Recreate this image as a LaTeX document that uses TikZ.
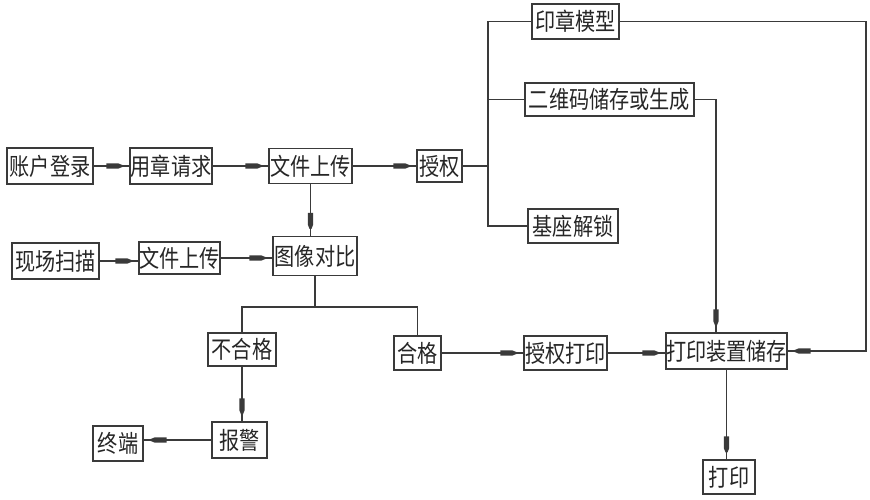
\documentclass[tikz,border=0pt]{standalone}
\usepackage{fontspec}
\newfontfamily\cjk[FakeStretch=0.84]{Noto Sans CJK SC}
\usetikzlibrary{decorations.markings}
\definecolor{ln}{HTML}{3A3A3A}
\tikzset{
  box/.style={draw=ln, line width=1.3pt, inner sep=0pt, text=black!85,
    font=\cjk\fontsize{24}{24}\selectfont},
  conn/.style={draw=ln, line width=1.1pt},
  marker/.style={conn, postaction={decorate, decoration={markings,
    mark=at position -7pt with {\fill[ln] (-16pt,-2.6pt) -- (-4pt,-2.6pt) -- (0pt,-1pt) -- (0pt,1pt) -- (-4pt,2.6pt) -- (-16pt,2.6pt) -- cycle;}}}}
}
\begin{document}
\begin{tikzpicture}[x=1pt,y=-1pt]
\useasboundingbox (0,0) rectangle (870,500);
% row 1
\node[box, minimum width=86, minimum height=36] (acc) at (50,166) {账户登录};
\node[box, minimum width=82, minimum height=36] (req) at (171,166) {用章请求};
\node[box, minimum width=83, minimum height=35] (up1) at (310.5,166) {文件上传};
\node[box, minimum width=45, minimum height=32] (auth) at (439.5,166) {授权};
% right branch
\node[box, minimum width=87, minimum height=35] (model) at (575.5,21.5) {印章模型};
\node[box, minimum width=169, minimum height=33] (qr) at (609.5,99.5) {二维码储存或生成};
\node[box, minimum width=90, minimum height=34] (base) at (573,226) {基座解锁};
% row 2
\node[box, minimum width=87, minimum height=36] (scan) at (55.5,261) {现场扫描};
\node[box, minimum width=81, minimum height=32] (up2) at (179.5,258) {文件上传};
\node[box, minimum width=84, minimum height=39] (cmp) at (315,256) {图像对比};
% row 3
\node[box, minimum width=68, minimum height=33] (fail) at (242,349.5) {不合格};
\node[box, minimum width=47, minimum height=34] (pass) at (417.5,353) {合格};
\node[box, minimum width=83, minimum height=34] (aprint) at (565.5,353) {授权打印};
\node[box, minimum width=121, minimum height=36] (store) at (726.5,351) {打印装置储存};
% row 4
\node[box, minimum width=55, minimum height=36] (alarm) at (239.5,440) {报警};
\node[box, minimum width=50, minimum height=35] (term) at (118,443.5) {终端};
\node[box, minimum width=52, minimum height=34] (print) at (729,477) {打印};
% coordinates
\coordinate (bx) at (488,166);
\coordinate (rt) at (866,21.5);
\coordinate (qx) at (716,99.5);
\coordinate (cy) at (315,307);
% connectors
\draw[marker] (acc.east) -- (acc.east -| req.west);
\draw[marker] (req.east) -- (req.east -| up1.west);
\draw[marker] (up1.east) -- (up1.east -| auth.west);
\draw[conn] (auth.east) -- (bx);
\draw[conn] (model.west) -| (base.west -| bx) -- (base.west);
\draw[conn] (qr.west -| bx) -- (qr.west);
\draw[marker] (model.east) -- (rt) |- (store.east);
\draw[marker] (qr.east) -- (qx) -- (qx |- store.north);
\draw[marker] (up1.south) -- (up1.south |- cmp.north);
\draw[marker] (scan.east) -- (scan.east -| up2.west);
\draw[marker] (up2.east) -- (up2.east -| cmp.west);
\draw[conn] (cmp.south) -- (cy);
\draw[conn] (fail.north) |- (cy) -| (pass.north);
\draw[marker] (fail.south) -- (fail.south |- alarm.north);
\draw[marker] (alarm.west) -- (alarm.west -| term.east);
\draw[marker] (pass.east) -- (pass.east -| aprint.west);
\draw[marker] (aprint.east) -- (aprint.east -| store.west);
\draw[marker] (store.south) -- (store.south |- print.north);
\end{tikzpicture}
\end{document}
